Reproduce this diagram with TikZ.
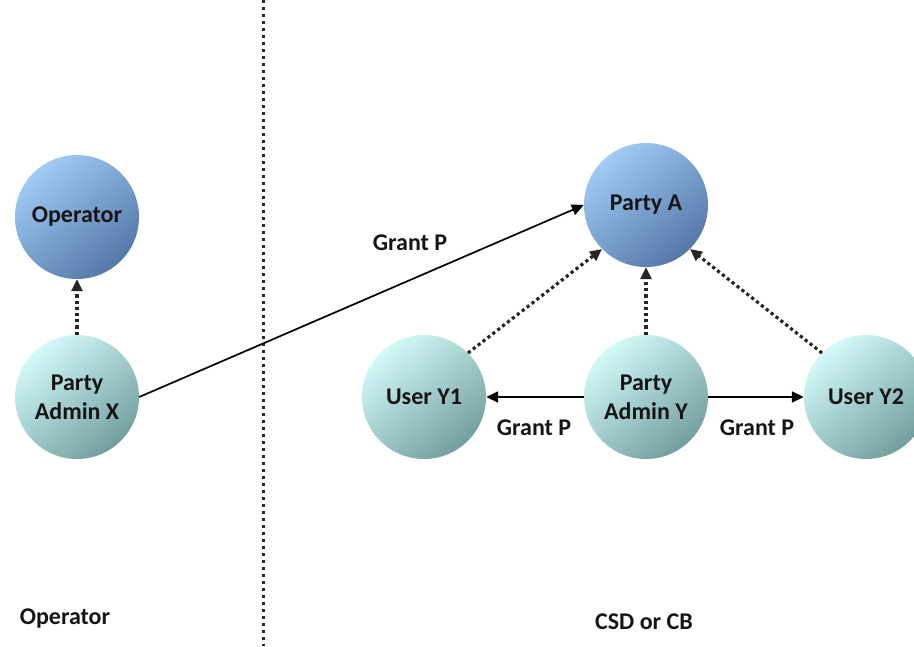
\documentclass[tikz,border=0pt]{standalone}
\usepackage{fontspec}
\setmainfont{Carlito}
\usetikzlibrary{arrows.meta}
\definecolor{blueA}{HTML}{A0CCF5}
\definecolor{blueB}{HTML}{5577A8}
\definecolor{tealA}{HTML}{D2FAF9}
\definecolor{tealB}{HTML}{729F9E}
\definecolor{txt}{HTML}{151515}
\tikzset{
  bluenode/.style={circle, minimum size=124pt, inner sep=0pt, shading=axis,
    top color=blueA, bottom color=blueB, shading angle=40,
    font=\fontsize{24}{29}\selectfont\bfseries, text=txt, align=center},
  tealnode/.style={circle, minimum size=124pt, inner sep=0pt, shading=axis,
    top color=tealA, bottom color=tealB, shading angle=40,
    font=\fontsize{24}{29}\selectfont\bfseries, text=txt, align=center},
  lbl/.style={font=\fontsize{24}{28}\selectfont\bfseries, text=txt, inner sep=0pt},
  tip/.style={-{Triangle[length=12pt,width=11pt]}},
  dotarrow/.style={tip, line width=3.2pt, dash pattern=on 3.2pt off 3pt, black!85},
  solidarrow/.style={tip, line width=1.7pt, black},
  divider/.style={line width=3pt, dash pattern=on 3pt off 4pt, black!85}
}
\begin{document}
\begin{tikzpicture}[x=1pt,y=-1pt]
\useasboundingbox (0,0) rectangle (914,646);
\clip (0,0) rectangle (914,646);
\coordinate (vt) at (263,0);
\coordinate (vb) at (263,646);
\draw[divider] (vt) -- (vb);

\node[bluenode] (op) at (77,217) {Operator};
\node[tealnode] (ax) at (77,397) {Party\\Admin X};
\node[bluenode] (pa) at (646,205) {Party A};
\node[tealnode] (y1) at (424,397) {User Y1};
\node[tealnode] (ay) at (646,397) {Party\\Admin Y};
\node[tealnode] (y2) at (866,397) {User Y2};

\draw[dotarrow] (ax) -- (op);
\draw[solidarrow] (ax.east) -- (pa.west);
\draw[dotarrow] (y1.north east) -- (pa.south west);
\draw[dotarrow] (ay) -- (pa);
\draw[dotarrow] (y2.north west) -- (pa.south east);
\draw[solidarrow] (ay) -- (y1);
\draw[solidarrow] (ay) -- (y2);

\node[lbl] (g1) at (410,243) {Grant P};
\node[lbl] (g2) at (534,428) {Grant P};
\node[lbl] (g3) at (757,428) {Grant P};
\node[lbl] (lo) at (65,619) {Operator};
\node[lbl] (lc) at (644,622) {CSD or CB};
\end{tikzpicture}
\end{document}
